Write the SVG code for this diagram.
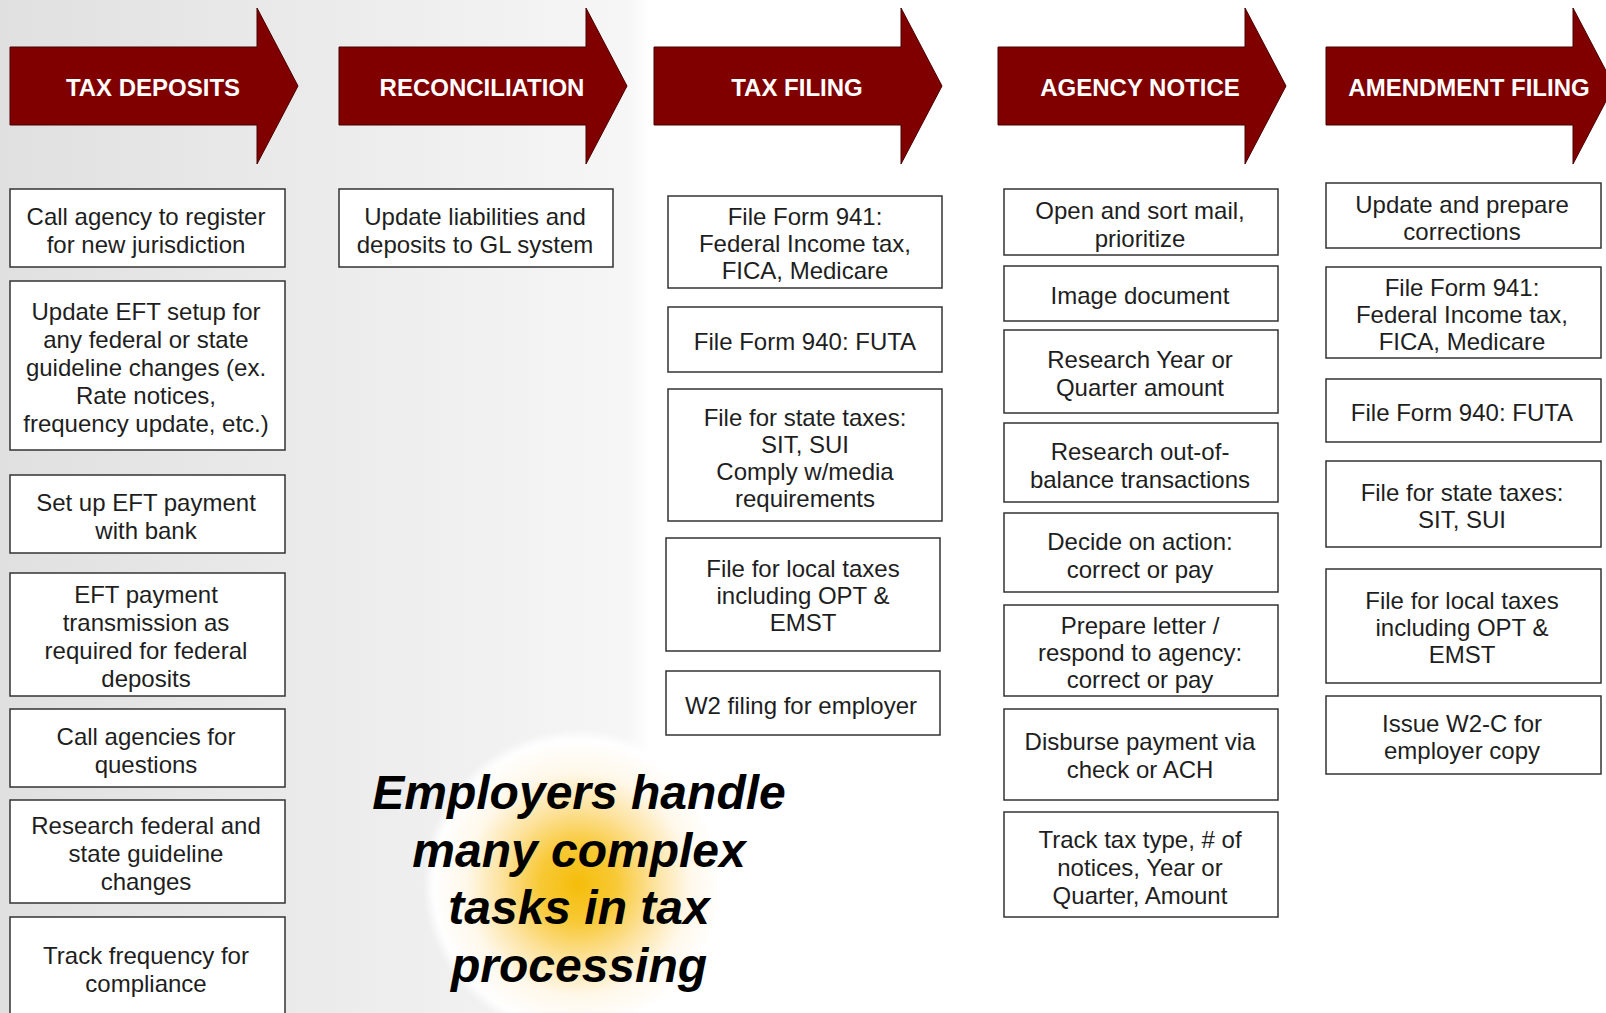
<svg xmlns="http://www.w3.org/2000/svg" width="1606" height="1013" viewBox="0 0 1606 1013">
<defs>
<linearGradient id="bg" x1="0" y1="0" x2="1606" y2="0" gradientUnits="userSpaceOnUse">
<stop offset="0" stop-color="#e0e0e0"/>
<stop offset="0.2" stop-color="#ebebeb"/>
<stop offset="0.39" stop-color="#f6f6f6"/>
<stop offset="0.405" stop-color="#ffffff"/>
<stop offset="1" stop-color="#ffffff"/>
</linearGradient>
<radialGradient id="glow" cx="578" cy="884" r="155" gradientUnits="userSpaceOnUse">
<stop offset="0" stop-color="#f5bd0a"/>
<stop offset="0.25" stop-color="#f8c937"/>
<stop offset="0.5" stop-color="#fde3a0"/>
<stop offset="0.72" stop-color="#fff8ea"/>
<stop offset="0.93" stop-color="#ffffff" stop-opacity="0.95"/>
<stop offset="1" stop-color="#ffffff" stop-opacity="0"/>
</radialGradient>
<path id="arrow" d="M0,47 H247 V8 L288,86 L247,164 V125 H0 Z"/>
</defs>
<style>
.arr{fill:#800000;stroke:#4a0000;stroke-width:1}
.ttl{font-family:"Liberation Sans",Arial,sans-serif;font-weight:bold;font-size:24px;fill:#ffffff;text-anchor:middle}
.box{fill:#ffffff;stroke:#333333;stroke-width:1.5}
.txt{font-family:"Liberation Sans",Arial,sans-serif;font-size:24px;fill:#1e1e1e;text-anchor:middle}
.big{font-family:"Liberation Sans",Arial,sans-serif;font-weight:bold;font-style:italic;font-size:48px;fill:#000000;text-anchor:middle}
</style>
<rect x="0" y="0" width="1606" height="1013" fill="url(#bg)"/>
<circle cx="578" cy="884" r="155" fill="url(#glow)"/>

<g id="connectors"></g>

<g id="arrow-tax-deposits"><use href="#arrow" x="10" class="arr"/><text class="ttl" x="153" y="96">TAX DEPOSITS</text></g>
<g id="arrow-reconciliation"><use href="#arrow" x="339" class="arr"/><text class="ttl" x="482" y="96">RECONCILIATION</text></g>
<g id="arrow-tax-filing"><use href="#arrow" x="654" class="arr"/><text class="ttl" x="797" y="96">TAX FILING</text></g>
<g id="arrow-agency-notice"><use href="#arrow" x="998" class="arr"/><text class="ttl" x="1140" y="96">AGENCY NOTICE</text></g>
<g id="arrow-amendment-filing"><use href="#arrow" x="1326" class="arr"/><text class="ttl" x="1469" y="96">AMENDMENT FILING</text></g>

<!-- Column 1 -->
<g id="td1"><rect class="box" x="10" y="189" width="275" height="78"/><text class="txt" x="146" y="225"><tspan x="146">Call agency to register</tspan><tspan x="146" dy="28">for new jurisdiction</tspan></text></g>
<g id="td2"><rect class="box" x="10" y="281" width="275" height="169"/><text class="txt" x="146" y="320"><tspan x="146">Update EFT setup for</tspan><tspan x="146" dy="28">any federal or state</tspan><tspan x="146" dy="28">guideline changes (ex.</tspan><tspan x="146" dy="28">Rate notices,</tspan><tspan x="146" dy="28">frequency update, etc.)</tspan></text></g>
<g id="td3"><rect class="box" x="10" y="475" width="275" height="78"/><text class="txt" x="146" y="511"><tspan x="146">Set up EFT payment</tspan><tspan x="146" dy="28">with bank</tspan></text></g>
<g id="td4"><rect class="box" x="10" y="573" width="275" height="123"/><text class="txt" x="146" y="603"><tspan x="146">EFT payment</tspan><tspan x="146" dy="28">transmission as</tspan><tspan x="146" dy="28">required for federal</tspan><tspan x="146" dy="28">deposits</tspan></text></g>
<g id="td5"><rect class="box" x="10" y="709" width="275" height="78"/><text class="txt" x="146" y="745"><tspan x="146">Call agencies for</tspan><tspan x="146" dy="28">questions</tspan></text></g>
<g id="td6"><rect class="box" x="10" y="800" width="275" height="103"/><text class="txt" x="146" y="834"><tspan x="146">Research federal and</tspan><tspan x="146" dy="28">state guideline</tspan><tspan x="146" dy="28">changes</tspan></text></g>
<g id="td7"><rect class="box" x="10" y="917" width="275" height="104"/><text class="txt" x="146" y="964"><tspan x="146">Track frequency for</tspan><tspan x="146" dy="28">compliance</tspan></text></g>

<!-- Column 2 -->
<g id="rc1"><rect class="box" x="339" y="189" width="274" height="78"/><text class="txt" x="475" y="225"><tspan x="475">Update liabilities and</tspan><tspan x="475" dy="28">deposits to GL system</tspan></text></g>

<!-- Column 3 -->
<g id="tf1"><rect class="box" x="668" y="196" width="274" height="92"/><text class="txt" x="805" y="225"><tspan x="805">File Form 941:</tspan><tspan x="805" dy="27">Federal Income tax,</tspan><tspan x="805" dy="27">FICA, Medicare</tspan></text></g>
<g id="tf2"><rect class="box" x="668" y="307" width="274" height="65"/><text class="txt" x="805" y="350">File Form 940: FUTA</text></g>
<g id="tf3"><rect class="box" x="668" y="389" width="274" height="132"/><text class="txt" x="805" y="426"><tspan x="805">File for state taxes:</tspan><tspan x="805" dy="27">SIT, SUI</tspan><tspan x="805" dy="27">Comply w/media</tspan><tspan x="805" dy="27">requirements</tspan></text></g>
<g id="tf4"><rect class="box" x="666" y="538" width="274" height="113"/><text class="txt" x="803" y="577"><tspan x="803">File for local taxes</tspan><tspan x="803" dy="27">including OPT &amp;</tspan><tspan x="803" dy="27">EMST</tspan></text></g>
<g id="tf5"><rect class="box" x="666" y="671" width="274" height="64"/><text class="txt" x="801" y="714">W2 filing for employer</text></g>

<!-- Column 4 -->
<g id="an1"><rect class="box" x="1004" y="189" width="274" height="66"/><text class="txt" x="1140" y="219"><tspan x="1140">Open and sort mail,</tspan><tspan x="1140" dy="28">prioritize</tspan></text></g>
<g id="an2"><rect class="box" x="1004" y="266" width="274" height="55"/><text class="txt" x="1140" y="304">Image document</text></g>
<g id="an3"><rect class="box" x="1004" y="330" width="274" height="83"/><text class="txt" x="1140" y="368"><tspan x="1140">Research Year or</tspan><tspan x="1140" dy="28">Quarter amount</tspan></text></g>
<g id="an4"><rect class="box" x="1004" y="423" width="274" height="79"/><text class="txt" x="1140" y="460"><tspan x="1140">Research out-of-</tspan><tspan x="1140" dy="28">balance transactions</tspan></text></g>
<g id="an5"><rect class="box" x="1004" y="513" width="274" height="79"/><text class="txt" x="1140" y="550"><tspan x="1140">Decide on action:</tspan><tspan x="1140" dy="28">correct or pay</tspan></text></g>
<g id="an6"><rect class="box" x="1004" y="605" width="274" height="91"/><text class="txt" x="1140" y="634"><tspan x="1140">Prepare letter /</tspan><tspan x="1140" dy="27">respond to agency:</tspan><tspan x="1140" dy="27">correct or pay</tspan></text></g>
<g id="an7"><rect class="box" x="1004" y="709" width="274" height="91"/><text class="txt" x="1140" y="750"><tspan x="1140">Disburse payment via</tspan><tspan x="1140" dy="28">check or ACH</tspan></text></g>
<g id="an8"><rect class="box" x="1004" y="812" width="274" height="105"/><text class="txt" x="1140" y="848"><tspan x="1140">Track tax type, # of</tspan><tspan x="1140" dy="28">notices, Year or</tspan><tspan x="1140" dy="28">Quarter, Amount</tspan></text></g>

<!-- Column 5 -->
<g id="af1"><rect class="box" x="1326" y="183" width="275" height="65"/><text class="txt" x="1462" y="213"><tspan x="1462">Update and prepare</tspan><tspan x="1462" dy="27">corrections</tspan></text></g>
<g id="af2"><rect class="box" x="1326" y="267" width="275" height="91"/><text class="txt" x="1462" y="296"><tspan x="1462">File Form 941:</tspan><tspan x="1462" dy="27">Federal Income tax,</tspan><tspan x="1462" dy="27">FICA, Medicare</tspan></text></g>
<g id="af3"><rect class="box" x="1326" y="379" width="275" height="63"/><text class="txt" x="1462" y="421">File Form 940: FUTA</text></g>
<g id="af4"><rect class="box" x="1326" y="461" width="275" height="86"/><text class="txt" x="1462" y="501"><tspan x="1462">File for state taxes:</tspan><tspan x="1462" dy="27">SIT, SUI</tspan></text></g>
<g id="af5"><rect class="box" x="1326" y="569" width="275" height="114"/><text class="txt" x="1462" y="609"><tspan x="1462">File for local taxes</tspan><tspan x="1462" dy="27">including OPT &amp;</tspan><tspan x="1462" dy="27">EMST</tspan></text></g>
<g id="af6"><rect class="box" x="1326" y="696" width="275" height="78"/><text class="txt" x="1462" y="732"><tspan x="1462">Issue W2-C for</tspan><tspan x="1462" dy="27">employer copy</tspan></text></g>

<g id="headline"><text class="big" x="579" y="809"><tspan x="579">Employers handle</tspan><tspan x="579" dy="57.5">many complex</tspan><tspan x="579" dy="57.5">tasks in tax</tspan><tspan x="579" dy="57.5">processing</tspan></text></g>
</svg>
